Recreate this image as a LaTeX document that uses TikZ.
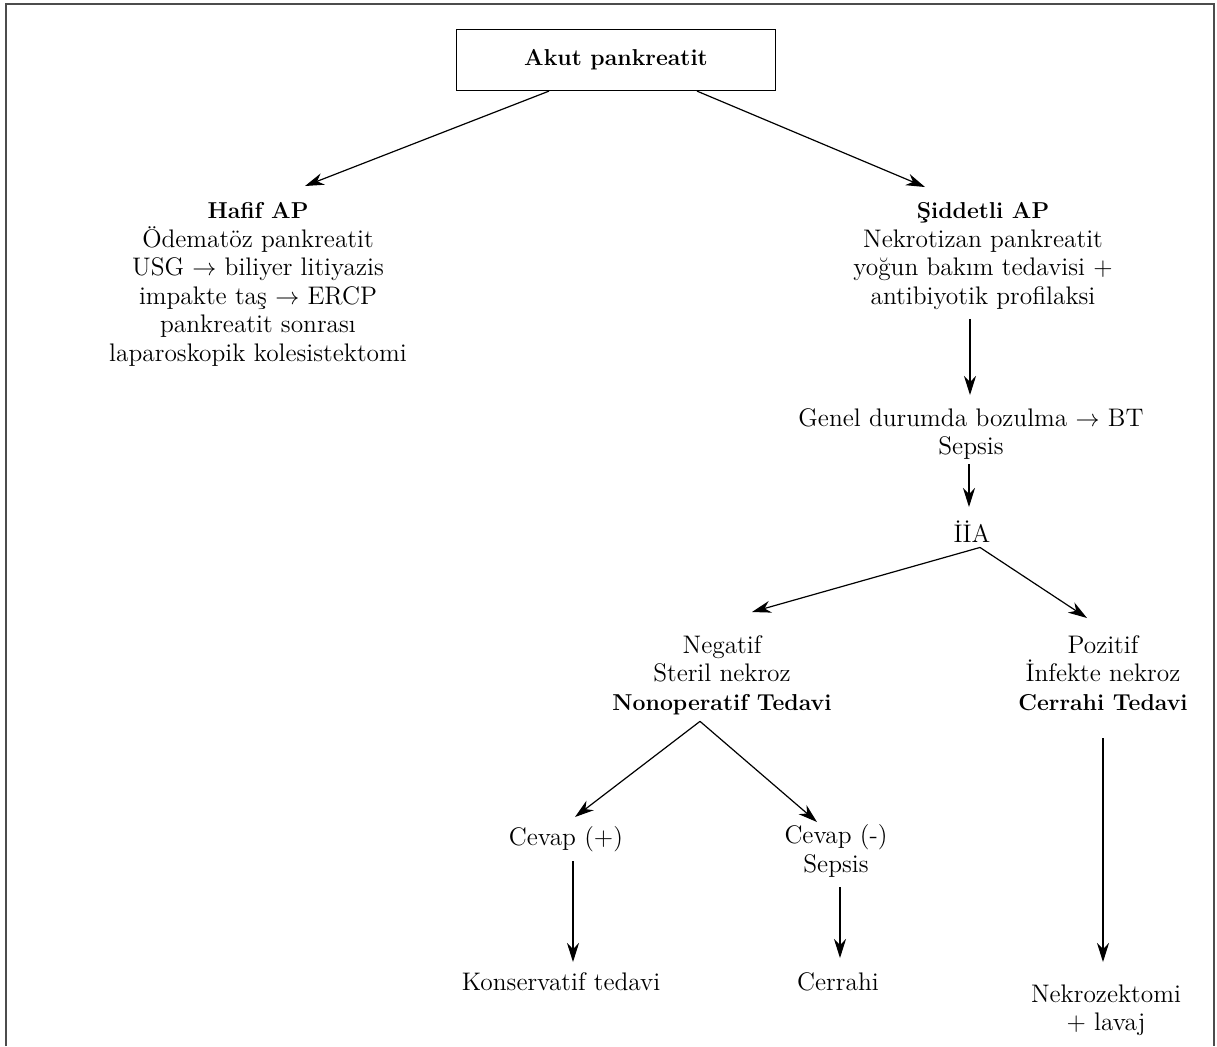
\documentclass[tikz,border=0pt]{standalone}
\usepackage{fontspec}
\usepackage{amsmath}
\usepackage{tikz}
\usetikzlibrary{arrows.meta,calc}

\newcommand{\bt}[1]{{\fontsize{11.5pt}{14.3pt}\selectfont\bfseries #1}}

\begin{document}
\begin{tikzpicture}[x=0.5pt, y=-0.5pt,
    box/.style={draw, rectangle, line width=0.6pt, minimum width=159.5pt, minimum height=30.5pt,
                font=\fontsize{12.7pt}{14.3pt}\selectfont},
    txt/.style={align=center, inner sep=0pt, anchor=north,
                font=\fontsize{12.7pt}{14.3pt}\selectfont},
    arr/.style={-{Stealth[length=9.5pt, width=6pt, inset=3pt]}, line width=0.6pt},
    frame/.style={line width=1pt, black!70}]
    \useasboundingbox (0,0) rectangle (1217,1046);

    % Frame
    \draw[frame] (6,1046) -- (6,4) -- (1214,4) -- (1214,1046);

    % Top
    \node[box] (akut) at (616,60) {\bt{Akut pankreatit}};

    % Two branches
    \node[txt] (hafif) at (258,202) {\bt{Hafif AP}\\Ödematöz pankreatit\\USG $\rightarrow$ biliyer litiyazis\\impakte taş $\rightarrow$ ERCP\\pankreatit sonrası\\laparoskopik kolesistektomi};
    \node[txt] (siddetli) at (983,202) {\bt{Şiddetli AP}\\Nekrotizan pankreatit\\yoğun bakım tedavisi +\\antibiyotik profilaksi};

    % Severe path
    \node[txt] (genel) at (971,408) {Genel durumda bozulma $\rightarrow$ BT\\Sepsis};
    \node[txt] (iia) at (972,520) {İİA};
    \node[txt] (negatif) at (722,635) {Negatif\\Steril nekroz\\\bt{Nonoperatif Tedavi}};
    \node[txt] (pozitif) at (1103,635) {Pozitif\\İnfekte nekroz\\\bt{Cerrahi Tedavi}};

    % Outcomes
    \node[txt] (cevapP) at (566,826) {Cevap (+)};
    \node[txt] (cevapN) at (836,824) {Cevap (-)\\Sepsis};
    \node[txt] (kons) at (561,972) {Konservatif tedavi};
    \node[txt] (cerrahi) at (838,972) {Cerrahi};
    \node[txt] (nekro) at (1106,984) {Nekrozektomi\\+ lavaj};

    % Connections
    \draw[arr] ($(akut.south)+(-67,0)$) -- ($(hafif.north)+(47,-16)$);
    \draw[arr] ($(akut.south)+(81,0)$) -- ($(siddetli.north)+(-58,-15)$);
    \draw[arr] ($(siddetli.south)+(-13,9)$) -- ($(genel.north)+(-1,-13)$);
    \draw[arr] ($(genel.south)+(-2,4)$) -- ($(iia.north)+(-3,-13)$);

    \draw[arr] ($(iia.south)+(8,5)$) -- ($(negatif.north)+(30,-23)$);
    \draw[arr] ($(iia.south)+(8,5)$) -- ($(pozitif.north)+(-16,-17)$);

    \draw[arr] ($(negatif.south)+(-22,6)$) -- ($(cevapP.north)+(9,-9)$);
    \draw[arr] ($(negatif.south)+(-22,6)$) -- ($(cevapN.north)+(-19,-2)$);

    \draw[arr] ($(cevapP.south)+(7,9)$) -- ($(kons.north)+(12,-10)$);
    \draw[arr] ($(cevapN.south)+(4,10)$) -- ($(cerrahi.north)+(2,-14)$);
    \draw[arr] ($(pozitif.south)+(0,27)$) -- ($(nekro.north)+(-3,-22)$);
\end{tikzpicture}
\end{document}
